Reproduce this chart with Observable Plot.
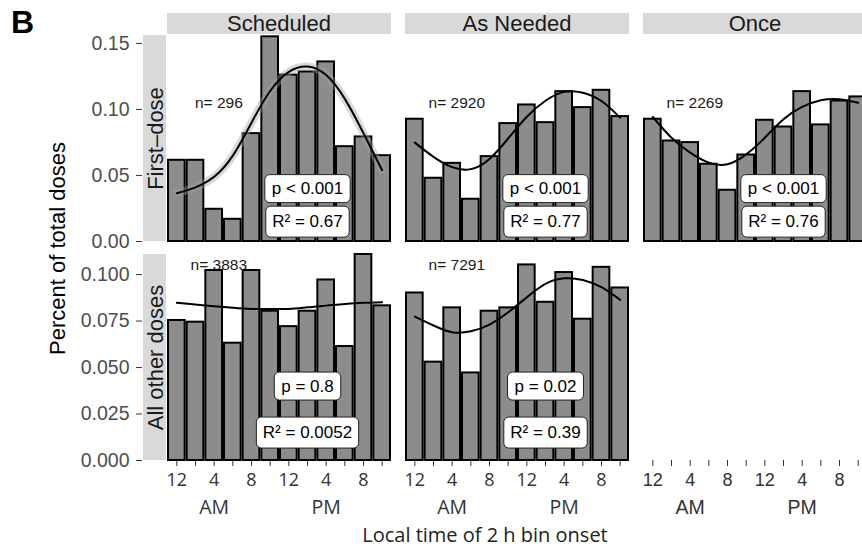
<!DOCTYPE html>
<html>
<head>
<meta charset="utf-8">
<script src="https://cdn.jsdelivr.net/npm/d3@7"></script>
<script src="https://cdn.jsdelivr.net/npm/@observablehq/plot@0.6"></script>
<style>
  html, body { margin: 0; padding: 0; background: #fff; overflow: hidden; }
  #root { position: relative; width: 862px; height: 548px; overflow: hidden; font-family: "Liberation Sans", Arial, sans-serif; }
  .abs { position: absolute; white-space: nowrap; }
  #root svg { max-width: none !important; }
</style>
</head>
<body>
<div id="root"></div>
<script>
// ---------------- data ----------------
const hours = [0, 2, 4, 6, 8, 10, 12, 14, 16, 18, 20, 22];
const hourTickLabels = ["12", "", "4", "", "8", "", "12", "", "4", "", "8", ""];
const meridiemLabels = ["AM", "PM"];
const meridiemHours = [4, 16];
const doseTypes = ["Scheduled", "As Needed", "Once"];
const doseGroups = ["First\u2013dose", "All other doses"];

// First-dose row (share of doses per 2 h bin)
const firstScheduled = [0.0615, 0.0615, 0.0244, 0.0168, 0.0817, 0.155, 0.126, 0.1284, 0.136, 0.0718, 0.0792, 0.065];
const firstAsNeeded  = [0.0926, 0.0479, 0.0592, 0.032, 0.0643, 0.0893, 0.1034, 0.09, 0.1135, 0.1014, 0.1145, 0.0946];
const firstOnce      = [0.0926, 0.0761, 0.0749, 0.0585, 0.0388, 0.0655, 0.0918, 0.0867, 0.1135, 0.0883, 0.1064, 0.1095];
// All other doses row
const otherScheduled = [0.0753, 0.0744, 0.1022, 0.0631, 0.1022, 0.0803, 0.072, 0.0803, 0.0971, 0.0613, 0.1108, 0.0832];
const otherAsNeeded  = [0.0901, 0.0529, 0.0821, 0.0471, 0.0803, 0.0821, 0.1052, 0.0851, 0.1011, 0.076, 0.1039, 0.0928];

// fitted cosinor curves (read at each bin centre)
const fitFirstScheduled = [0.0366, 0.041, 0.049, 0.065, 0.09, 0.114, 0.1285, 0.1325, 0.126, 0.108, 0.082, 0.054];
const fitFirstAsNeeded  = [0.0749, 0.0641, 0.0563, 0.0548, 0.0625, 0.078, 0.0945, 0.1066, 0.1133, 0.1127, 0.1064, 0.0938];
const fitFirstOnce      = [0.0943, 0.0786, 0.0673, 0.0597, 0.0585, 0.066, 0.0786, 0.0926, 0.1019, 0.107, 0.1077, 0.105];
const fitOtherScheduled = [0.0848, 0.0839, 0.083, 0.0821, 0.0815, 0.0815, 0.0815, 0.0824, 0.0833, 0.0842, 0.0848, 0.0851];
const fitOtherAsNeeded  = [0.0774, 0.0726, 0.069, 0.0695, 0.0731, 0.0797, 0.0878, 0.095, 0.098, 0.0971, 0.0932, 0.0864];

const nFirst = [296, 2920, 2269];
const nOther = [3883, 7291];
const pFirst = ["p < 0.001", "p < 0.001", "p < 0.001"];
const pOther = ["p = 0.8", "p = 0.02"];
const r2First = ["0.67", "0.77", "0.76"];
const r2Other = ["0.0052", "0.39"];

const yTicksFirst = [0, 0.05, 0.10, 0.15];
const yTicksOther = [0, 0.025, 0.05, 0.075, 0.1];
const yDomainFirst = [0, 0.156];
const yDomainOther = [0, 0.1108];

// ---------------- layout ----------------
const colLeft = [167, 405, 643];
const PW = 224, PH = 206;
const rowTop = [35, 254];
const root = document.getElementById("root");

function place(node, left, top) {
  const w = document.createElement("div");
  w.style.cssText = `position:absolute;left:${left}px;top:${top}px;width:${node.getAttribute("width")}px;`;
  w.appendChild(node);
  root.appendChild(w);
  return node;
}
function div(css, text) {
  const d = document.createElement("div");
  d.className = "abs";
  d.style.cssText += css;
  if (text != null) d.textContent = text;
  root.appendChild(d);
  return d;
}
function boxify(svg, desc, padX, padY) {
  d3.select(svg).selectAll(`g[aria-description="${desc}"] text`).each(function () {
    const b = this.getBBox();
    const r = document.createElementNS("http://www.w3.org/2000/svg", "rect");
    r.setAttribute("x", b.x - padX);
    r.setAttribute("y", b.y - padY);
    r.setAttribute("width", b.width + 2 * padX);
    r.setAttribute("height", b.height + 2 * padY);
    r.setAttribute("rx", 5);
    r.setAttribute("fill", "#fff");
    r.setAttribute("stroke", "#222");
    r.setAttribute("stroke-width", 1);
    const t = this.getAttribute("transform");
    if (t) r.setAttribute("transform", t);
    this.parentNode.insertBefore(r, this);
  });
}

const tickLabelByHour = new Map(hours.map((h, i) => [h, hourTickLabels[i]]));
const baseStyle = {overflow: "visible", background: "transparent", maxWidth: "none", fontFamily: "'Liberation Sans', Arial, sans-serif"};

function drawPanel(o) {
  const mb = o.xaxis ? 80 : 0;
  const marks = [];
  if (o.values) {
    const bars = hours.map((h, i) => ({hour: h, value: o.values[i]}));
    const fitRows = hours.map((h, i) => ({hour: h, value: o.fit[i]}));
    marks.push(Plot.rect(bars, {
      x1: d => d.hour - 1, x2: d => d.hour + 1, y1: 0, y2: "value",
      fill: "#8c8c8c", stroke: "#000", strokeWidth: 2, insetLeft: 1, insetRight: 1
    }));
    if (o.ribbon) {
      marks.push(Plot.line(fitRows, {x: "hour", y: "value", curve: "natural", stroke: "#a0a0a0", strokeOpacity: 0.4, strokeWidth: 8}));
    }
    marks.push(Plot.line(fitRows, {x: "hour", y: "value", curve: "natural", stroke: "#000", strokeWidth: 2}));
    marks.push(Plot.text([{hour: 4.5, value: 0.105, label: "n= " + o.n}], {
      x: "hour", y: "value", text: "label", fontSize: 15.5, fill: "#1a1a1a"
    }));
    marks.push(Plot.text([{hour: 14, value: 0.04, label: o.p}], {
      x: "hour", y: "value", text: "label", fontSize: 17, fill: "#000", ariaDescription: "box-p"
    }));
    marks.push(Plot.text([{hour: 14, value: 0.015, label: "R\u00B2 = " + o.r2}], {
      x: "hour", y: "value", text: "label", fontSize: 17, fill: "#000", ariaDescription: "box-r"
    }));
  }
  if (o.xaxis) {
    marks.push(Plot.axisX(hours, {
      tickSize: 6, tickPadding: 7, tickFormat: d => tickLabelByHour.get(d),
      fontSize: 18, fontFamily: o.xFont, label: null, color: "#333"
    }));
    marks.push(Plot.text(meridiemHours.map((h, i) => ({hour: h, label: meridiemLabels[i]})), {
      x: "hour", text: "label", frameAnchor: "bottom", lineAnchor: "middle", dy: 47, fontSize: 19.5, fontFamily: o.xFont, fill: "#333"
    }));
  }
  const svg = Plot.plot({
    width: PW, height: PH + mb,
    marginLeft: 0, marginRight: 0, marginTop: 0, marginBottom: mb,
    style: baseStyle,
    x: {domain: [-1, 23], ...(o.xaxis ? {} : {axis: null})},
    y: {domain: o.ydomain, axis: null},
    marks
  });
  place(svg, o.left, o.top);
  if (o.values) {
    boxify(svg, "box-p", 7, 4.5);
    boxify(svg, "box-r", 6.5, 6);
  }
}

function drawYAxis(ticks, domain, fmt, top) {
  const svg = Plot.plot({
    width: 143, height: PH,
    marginLeft: 142, marginRight: 1, marginTop: 0, marginBottom: 0,
    style: baseStyle,
    y: {domain},
    marks: [Plot.axisY(ticks, {tickSize: 6, tickPadding: 7, tickFormat: d3.format(fmt), fontSize: 19.5, label: null, color: "#333"})]
  });
  place(svg, 0, top);
  d3.select(svg).selectAll('g[aria-label="y-axis tick label"]').attr("fill", "#4d4d4d");
}

// ---------------- strips & titles ----------------
div("left:11px;top:6px;font-size:32px;line-height:32px;font-weight:bold;color:#000;", "B");
doseTypes.forEach((t, i) => {
  div(`left:${colLeft[i]}px;top:13px;width:${PW}px;height:21px;line-height:21px;background:#d9d9d9;text-align:center;font-size:22px;color:#1a1a1a;`, t);
});
doseGroups.forEach((g, i) => {
  div(`left:143px;top:${rowTop[i]}px;width:23px;height:${PH}px;background:#d9d9d9;`);
  div(`left:${154.5 - PH / 2}px;top:${rowTop[i] + PH / 2 - 11.5}px;width:${PH}px;height:23px;line-height:23px;text-align:center;font-size:22px;color:#1a1a1a;transform:rotate(-90deg);transform-origin:50% 50%;`, g);
});
div(`left:${56.5 - 130}px;top:${248 - 11.5}px;width:260px;height:23px;line-height:23px;text-align:center;font-size:22px;color:#000;transform:rotate(-90deg);transform-origin:50% 50%;`, "Percent of total doses");
div(`left:${485 - 150}px;top:523px;width:300px;height:24px;line-height:24px;text-align:center;font-size:20px;color:#222;font-family:'Open Sans',sans-serif;`, "Local time of 2 h bin onset");

// ---------------- axes & panels ----------------
drawYAxis(yTicksFirst, yDomainFirst, ".2f", rowTop[0]);
drawYAxis(yTicksOther, yDomainOther, ".3f", rowTop[1]);

const firstVals = [firstScheduled, firstAsNeeded, firstOnce];
const firstFits = [fitFirstScheduled, fitFirstAsNeeded, fitFirstOnce];
firstVals.forEach((v, i) => drawPanel({
  values: v, fit: firstFits[i], n: nFirst[i], p: pFirst[i], r2: r2First[i],
  ydomain: yDomainFirst, ribbon: i === 0, xaxis: false, left: colLeft[i], top: rowTop[0]
}));
const otherVals = [otherScheduled, otherAsNeeded, null];
const otherFits = [fitOtherScheduled, fitOtherAsNeeded, null];
const xFonts = ["'Open Sans', sans-serif", "'Open Sans', sans-serif", "'Liberation Sans', Arial, sans-serif"];
otherVals.forEach((v, i) => drawPanel({
  values: v, fit: otherFits[i], n: nOther[i], p: pOther[i], r2: r2Other[i],
  ydomain: yDomainOther, ribbon: false, xaxis: true, xFont: xFonts[i], left: colLeft[i], top: rowTop[1]
}));
</script>
</body>
</html>
